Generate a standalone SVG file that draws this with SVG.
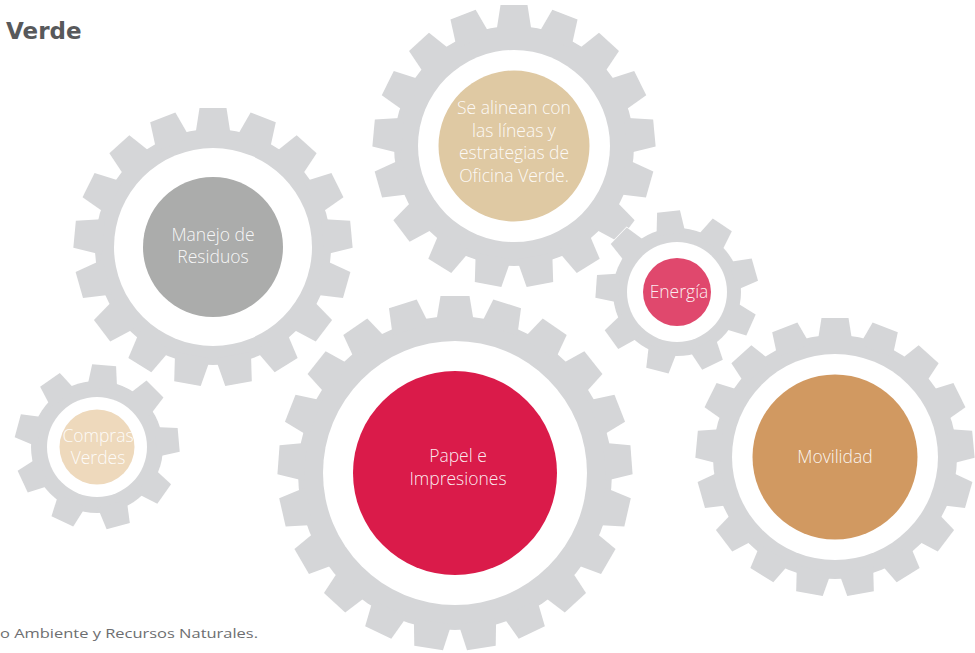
<svg xmlns="http://www.w3.org/2000/svg" xmlns:xlink="http://www.w3.org/1999/xlink" width="975" height="653" viewBox="0 0 975 653">
<style>
.gout{fill:#d5d6d8;stroke:#ffffff;stroke-width:1.5}
.gin{fill:#d5d6d8;stroke:none}
.hole{fill:#ffffff}
.lbl{font-family:"Open Sans","DejaVu Sans",sans-serif;font-weight:300;font-size:17.5px;fill:#ffffff;fill-opacity:0.92;text-anchor:middle}
.title{font-family:"DejaVu Sans","Liberation Sans",sans-serif;font-weight:bold;font-size:23px;fill:#58595b}
.foot{font-family:"Open Sans","DejaVu Sans",sans-serif;font-size:13.5px;fill:#6d6e70}
</style>
<defs>
<polygon id="t1" points="-18,-110 -13.5,-139 13.5,-139 18,-110"/>
<polygon id="t2" points="-18,-112 -13.5,-141 13.5,-141 18,-112"/>
<polygon id="t6" points="-17.5,-114 -13.5,-139 13.5,-139 17.5,-114"/>
<polygon id="t5" points="-19,-150 -14.5,-177 14.5,-177 19,-150"/>
<polygon id="t3" points="-14.5,-58 -11.5,-81 11.5,-81 14.5,-58"/>
<polygon id="t4" points="-15,-59 -12,-82 12,-82 15,-59"/>
<g id="b1"><circle r="118"/>
<use href="#t1"/><use href="#t1" transform="rotate(21.18)"/><use href="#t1" transform="rotate(42.35)"/><use href="#t1" transform="rotate(63.53)"/><use href="#t1" transform="rotate(84.71)"/><use href="#t1" transform="rotate(105.88)"/><use href="#t1" transform="rotate(127.06)"/><use href="#t1" transform="rotate(148.24)"/><use href="#t1" transform="rotate(169.41)"/><use href="#t1" transform="rotate(190.59)"/><use href="#t1" transform="rotate(211.76)"/><use href="#t1" transform="rotate(232.94)"/><use href="#t1" transform="rotate(254.12)"/><use href="#t1" transform="rotate(275.29)"/><use href="#t1" transform="rotate(296.47)"/><use href="#t1" transform="rotate(317.65)"/><use href="#t1" transform="rotate(338.82)"/>
</g>
<g id="b2"><circle r="120"/>
<use href="#t2"/><use href="#t2" transform="rotate(21.18)"/><use href="#t2" transform="rotate(42.35)"/><use href="#t2" transform="rotate(63.53)"/><use href="#t2" transform="rotate(84.71)"/><use href="#t2" transform="rotate(105.88)"/><use href="#t2" transform="rotate(127.06)"/><use href="#t2" transform="rotate(148.24)"/><use href="#t2" transform="rotate(169.41)"/><use href="#t2" transform="rotate(190.59)"/><use href="#t2" transform="rotate(211.76)"/><use href="#t2" transform="rotate(232.94)"/><use href="#t2" transform="rotate(254.12)"/><use href="#t2" transform="rotate(275.29)"/><use href="#t2" transform="rotate(296.47)"/><use href="#t2" transform="rotate(317.65)"/><use href="#t2" transform="rotate(338.82)"/>
</g>
<g id="b6"><circle r="122"/>
<use href="#t6"/><use href="#t6" transform="rotate(21.18)"/><use href="#t6" transform="rotate(42.35)"/><use href="#t6" transform="rotate(63.53)"/><use href="#t6" transform="rotate(84.71)"/><use href="#t6" transform="rotate(105.88)"/><use href="#t6" transform="rotate(127.06)"/><use href="#t6" transform="rotate(148.24)"/><use href="#t6" transform="rotate(169.41)"/><use href="#t6" transform="rotate(190.59)"/><use href="#t6" transform="rotate(211.76)"/><use href="#t6" transform="rotate(232.94)"/><use href="#t6" transform="rotate(254.12)"/><use href="#t6" transform="rotate(275.29)"/><use href="#t6" transform="rotate(296.47)"/><use href="#t6" transform="rotate(317.65)"/><use href="#t6" transform="rotate(338.82)"/>
</g>
<g id="b5"><circle r="157"/>
<use href="#t5"/><use href="#t5" transform="rotate(17.14)"/><use href="#t5" transform="rotate(34.29)"/><use href="#t5" transform="rotate(51.43)"/><use href="#t5" transform="rotate(68.57)"/><use href="#t5" transform="rotate(85.71)"/><use href="#t5" transform="rotate(102.86)"/><use href="#t5" transform="rotate(120)"/><use href="#t5" transform="rotate(137.14)"/><use href="#t5" transform="rotate(154.29)"/><use href="#t5" transform="rotate(171.43)"/><use href="#t5" transform="rotate(188.57)"/><use href="#t5" transform="rotate(205.71)"/><use href="#t5" transform="rotate(222.86)"/><use href="#t5" transform="rotate(240)"/><use href="#t5" transform="rotate(257.14)"/><use href="#t5" transform="rotate(274.29)"/><use href="#t5" transform="rotate(291.43)"/><use href="#t5" transform="rotate(308.57)"/><use href="#t5" transform="rotate(325.71)"/><use href="#t5" transform="rotate(342.86)"/>
</g>
<g id="b3"><circle r="64"/>
<use href="#t3" transform="rotate(-6)"/><use href="#t3" transform="rotate(34)"/><use href="#t3" transform="rotate(74)"/><use href="#t3" transform="rotate(114)"/><use href="#t3" transform="rotate(154)"/><use href="#t3" transform="rotate(194)"/><use href="#t3" transform="rotate(234)"/><use href="#t3" transform="rotate(274)"/><use href="#t3" transform="rotate(314)"/>
</g>
<g id="b4"><circle r="66"/>
<use href="#t4" transform="rotate(5)"/><use href="#t4" transform="rotate(45)"/><use href="#t4" transform="rotate(85)"/><use href="#t4" transform="rotate(125)"/><use href="#t4" transform="rotate(165)"/><use href="#t4" transform="rotate(205)"/><use href="#t4" transform="rotate(245)"/><use href="#t4" transform="rotate(285)"/><use href="#t4" transform="rotate(325)"/>
</g>
</defs>
<rect width="975" height="653" fill="#ffffff"/>
<text class="title" x="6" y="39">Verde</text>
<g id="gear-residuos">
<g transform="translate(213,247)"><use href="#b1" class="gout"/><use href="#b1" class="gin"/><circle class="hole" r="99"/><circle r="70" fill="#abacab"/></g>
<text class="lbl" x="213" y="241">Manejo de</text>
<text class="lbl" x="213" y="263">Residuos</text>
</g>
<g id="gear-oficina">
<g transform="translate(514,146)"><use href="#b2" class="gout"/><use href="#b2" class="gin"/><circle class="hole" r="96"/><circle r="75.5" fill="#dfc9a3"/></g>
<text class="lbl" x="514" y="114">Se alinean con</text>
<text class="lbl" x="514" y="136.5">las líneas y</text>
<text class="lbl" x="514" y="159">estrategias de</text>
<text class="lbl" x="514" y="181.5">Oficina Verde.</text>
</g>
<g id="gear-energia">
<g transform="translate(677,292)"><use href="#b3" class="gout"/><use href="#b3" class="gin"/><circle class="hole" r="50"/><circle r="34" fill="#e0486d"/></g>
<text class="lbl" x="679" y="298">Energía</text>
</g>
<g id="gear-compras">
<g transform="translate(97,447)"><use href="#b4" class="gout"/><use href="#b4" class="gin"/><circle class="hole" r="50"/><circle r="37.5" fill="#eed9bc"/></g>
<text class="lbl" x="98" y="442">Compras</text>
<text class="lbl" x="98" y="464">Verdes</text>
</g>
<g id="gear-papel">
<g transform="translate(455,473)"><use href="#b5" class="gout"/><use href="#b5" class="gin"/><circle class="hole" r="132"/><circle r="102" fill="#da1b4a"/></g>
<text class="lbl" x="458" y="462">Papel e</text>
<text class="lbl" x="458" y="485">Impresiones</text>
</g>
<g id="gear-movilidad">
<g transform="translate(835,457)"><use href="#b6" class="gout"/><use href="#b6" class="gin"/><circle class="hole" r="103"/><circle r="82.5" fill="#d19961"/></g>
<text class="lbl" x="835" y="463">Movilidad</text>
</g>
<g id="connectors"/>
<text class="foot" x="0" y="638" textLength="258" lengthAdjust="spacingAndGlyphs">o Ambiente y Recursos Naturales.</text>
</svg>
